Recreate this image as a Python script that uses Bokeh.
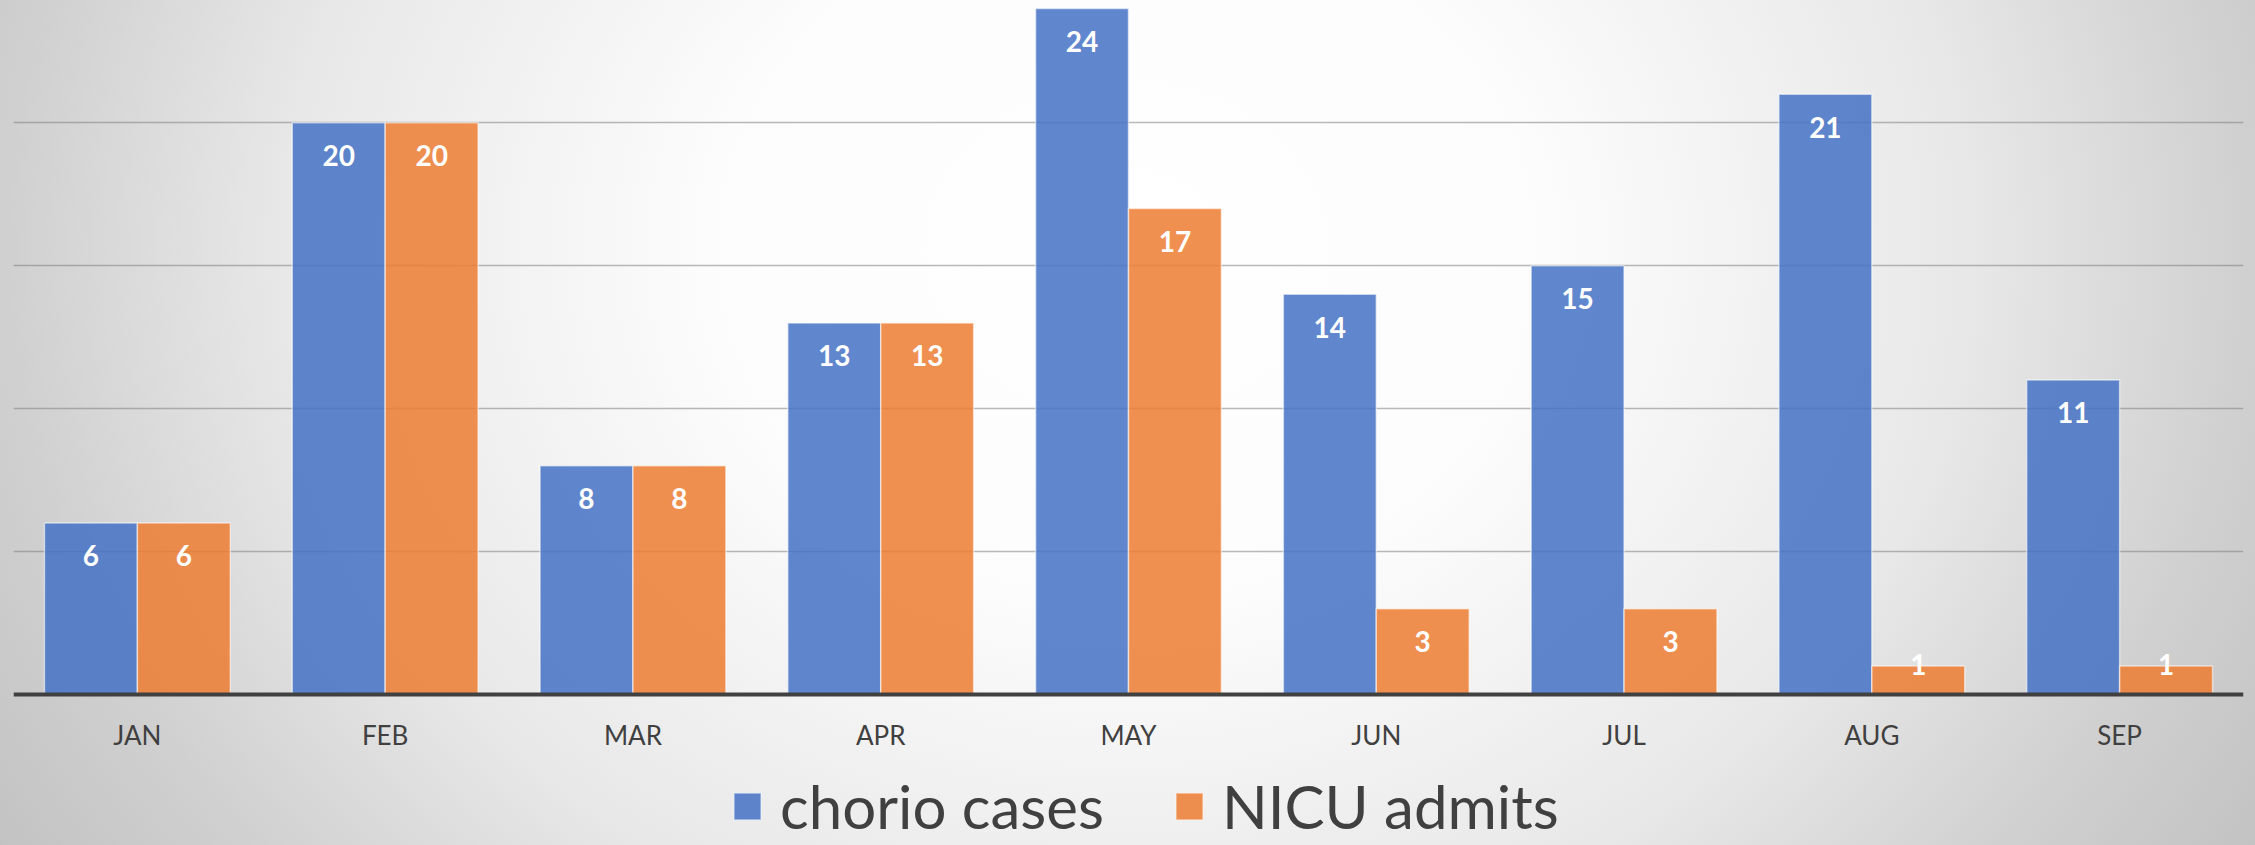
from bokeh.plotting import figure
from bokeh.models import (FactorRange, ColumnDataSource, Legend, LegendItem,
                          Grid, FixedTicker)
from bokeh.transform import dodge
from bokeh.core.properties import value
from bokeh.embed import file_html
from bokeh.resources import INLINE

# ---- data ----
months = ["JAN", "FEB", "MAR", "APR", "MAY", "JUN", "JUL", "AUG", "SEP"]
chorio_cases = [6, 20, 8, 13, 24, 14, 15, 21, 11]
nicu_admits = [6, 20, 8, 13, 17, 3, 3, 1, 1]
series_names = ["chorio cases", "NICU admits"]
grid_values = [5, 10, 15, 20]

BLUE = "#4472C4"
ORANGE = "#ED7D31"
TEXT = "#404040"
FONT = "Lato"


def label_pos(v):
    # inside-end label; very short bars get the label centred near their top
    return v - 1.15 if v >= 3 else v + 0.05


src = ColumnDataSource(dict(
    month=months,
    chorio=chorio_cases,
    nicu=nicu_admits,
    chorio_txt=[str(v) for v in chorio_cases],
    nicu_txt=[str(v) for v in nicu_admits],
    chorio_y=[label_pos(v) for v in chorio_cases],
    nicu_y=[label_pos(v) for v in nicu_admits],
))

# the frame spans the full height; the category axis sits at y = 0
p = figure(x_range=FactorRange(*months), y_range=(-5.283, 24.28),
           width=2255, height=845,
           output_backend="svg", toolbar_location=None,
           y_axis_location=None,
           min_border_left=13, min_border_right=12,
           min_border_top=0, min_border_bottom=0)
p.x_range.range_padding = 0
p.background_fill_alpha = 0
p.border_fill_alpha = 0
p.outline_line_color = None
p.styles = {
    "background": "radial-gradient(ellipse 1400px 1190px at 1127px 250px, "
                  "#ffffff 0%, #fcfcfc 30%, #e8e8e8 60%, #d0d0d0 80%, #bebebe 100%)"
}

for g in p.grid:
    g.visible = False
p.add_layout(Grid(dimension=1, ticker=FixedTicker(ticks=grid_values),
                  grid_line_color="#7f7f7f", grid_line_alpha=0.55,
                  grid_line_width=1.5))

W = 0.375
r1 = p.vbar(x=dodge("month", -W / 2, range=p.x_range), top="chorio", bottom=0,
            width=W, source=src, fill_color=BLUE, fill_alpha=0.85,
            line_color="white", line_alpha=0.55, line_width=1.5)
r2 = p.vbar(x=dodge("month", W / 2, range=p.x_range), top="nicu", bottom=0,
            width=W, source=src, fill_color=ORANGE, fill_alpha=0.85,
            line_color="white", line_alpha=0.55, line_width=1.5)

for xo, ycol, tcol in [(-W / 2, "chorio_y", "chorio_txt"), (W / 2, "nicu_y", "nicu_txt")]:
    p.text(x=dodge("month", xo, range=p.x_range), y=ycol, text=tcol, source=src,
           text_color="white", text_font=value(FONT), text_font_style="bold",
           text_font_size="28px", text_align="center", text_baseline="middle")

ax = p.xaxis[0]
ax.fixed_location = 0
ax.axis_line_color = TEXT
ax.axis_line_width = 4
ax.major_tick_line_color = None
ax.minor_tick_line_color = None
ax.major_tick_out = 0
ax.major_label_text_font = FONT
ax.major_label_text_font_size = "26px"
ax.major_label_text_color = TEXT
ax.major_label_standoff = 25

legend = Legend(items=[LegendItem(label=series_names[0], renderers=[r1]),
                       LegendItem(label=series_names[1], renderers=[r2])],
                orientation="horizontal", location=(717, 3),
                label_text_font=FONT, label_text_font_size="60px",
                label_text_color=TEXT, glyph_width=34, glyph_height=34,
                spacing=68, label_standoff=16, padding=0, margin=0,
                background_fill_alpha=0, border_line_color=None)
p.add_layout(legend, "center")

open("out.html", "w").write(file_html(p, INLINE))
